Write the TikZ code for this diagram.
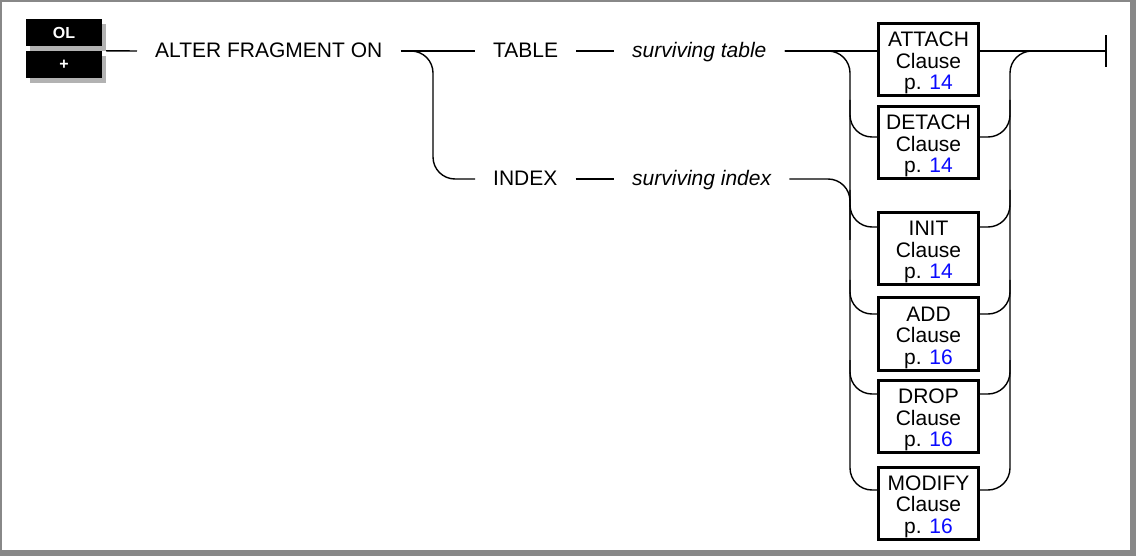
\documentclass[tikz,border=0pt]{standalone}
\usepackage{fontspec}
\setmainfont{Liberation Sans}
\usetikzlibrary{shadows,calc}
\definecolor{framegray}{RGB}{136,136,136}
\definecolor{shadowgray}{RGB}{178,178,178}
\definecolor{linkblue}{RGB}{10,10,255}
\begin{document}
\begin{tikzpicture}[x=1pt,y=-1pt,
  conn/.style={line width=1.4pt},
  rc/.style={conn, rounded corners=22pt},
  lbl/.style={font=\fontsize{21}{22}\selectfont, inner xsep=18pt, inner ysep=0pt, text height=13pt, text depth=0pt, anchor=west},
  clausebox/.style={draw, line width=3pt, minimum width=100pt, minimum height=72pt, inner sep=0pt, align=center, font=\fontsize{21}{21.5}\selectfont},
  tagbox/.style={fill=black, text=white, font=\fontsize{16}{16}\selectfont\bfseries, minimum width=76pt, minimum height=27pt, inner sep=0pt,
     general shadow={fill=shadowgray, shadow xshift=4pt, shadow yshift=-5pt}}
]
\useasboundingbox (0,0) rectangle (1136,556);
\fill[framegray] (0,0) rectangle (1136,556);
\fill[white] (2,2) rectangle (1130,550);

% tag boxes
\node[tagbox] (ol) at (64,32.5) {OL};
\node[tagbox] (plus) at (64,64.5) {+};

% labels
\node[lbl] (alter) at (137,51) {ALTER FRAGMENT ON};
\node[lbl] (table) at (475,51) {TABLE};
\node[lbl] (stab) at (614,51) {\itshape surviving table};
\node[lbl] (index) at (475,179) {INDEX};
\node[lbl] (sidx) at (614,179) {\itshape surviving index};

% clause boxes
\node[clausebox] (attach) at (928.5,59.5) {\rule{0pt}{4pt}\\[-4pt]ATTACH\\Clause\\p. \textcolor{linkblue}{14}};
\node[clausebox] (detach) at (928.5,142.5) {\rule{0pt}{4pt}\\[-4pt]DETACH\\Clause\\p. \textcolor{linkblue}{14}};
\node[clausebox] (init) at (928.5,248.5) {\rule{0pt}{4pt}\\[-4pt]INIT\\Clause\\p. \textcolor{linkblue}{14}};
\node[clausebox] (add) at (928.5,334) {\rule{0pt}{4pt}\\[-4pt]ADD\\Clause\\p. \textcolor{linkblue}{16}};
\node[clausebox] (drop) at (928.5,416.5) {\rule{0pt}{4pt}\\[-4pt]DROP\\Clause\\p. \textcolor{linkblue}{16}};
\node[clausebox] (modify) at (928.5,503) {\rule{0pt}{4pt}\\[-4pt]MODIFY\\Clause\\p. \textcolor{linkblue}{16}};

% connection points
\coordinate (aW) at ([yshift=8.5pt]attach.west);
\coordinate (aE) at ([yshift=8.5pt]attach.east);
\coordinate (dW) at ([yshift=5.5pt]detach.west);
\coordinate (dE) at ([yshift=5.5pt]detach.east);
\coordinate (iW) at ([yshift=21.5pt]init.west);
\coordinate (iE) at ([yshift=21.5pt]init.east);
\coordinate (adW) at ([yshift=20pt]add.west);
\coordinate (adE) at ([yshift=20pt]add.east);
\coordinate (drW) at ([yshift=22.5pt]drop.west);
\coordinate (drE) at ([yshift=22.5pt]drop.east);
\coordinate (mW) at ([yshift=13pt]modify.west);
\coordinate (mE) at ([yshift=13pt]modify.east);
\coordinate (fork) at (433,0);
\coordinate (lbus) at (850,0);
\coordinate (rbus) at (1010,0);
\coordinate (endbar) at (1106,51);

% main line
\draw[conn] ([xshift=4pt]plus.north east) -- (alter.west);
\draw[conn] (alter.east) -- (table.west);
\draw[rc] ([xshift=3pt]alter.east) -| (fork |- index.west) -- (index.west);
\draw[conn] (table.east) -- (stab.west);
\draw[conn] (index.east) -- (sidx.west);
\draw[conn] (stab.east) -- (aW);
\draw[conn] (aE) -- (endbar);
\draw[conn] ([yshift=-16pt]endbar) -- ([yshift=16pt]endbar);

% left bus
\draw[rc] (stab.east) -| (lbus |- mW) -- (mW);
\draw[rc] (sidx.east) -| (lbus |- 0,240);
\draw[rc] (lbus |- 0,100) |- (dW);
\draw[rc] (lbus |- 0,190) |- (iW);
\draw[rc] (lbus |- 0,280) |- (adW);
\draw[rc] (lbus |- 0,360) |- (drW);

% right bus
\draw[rc] (mE) -| (rbus |- aE) -- (endbar);
\draw[rc] (dE) -| (rbus |- 0,100);
\draw[rc] (iE) -| (rbus |- 0,190);
\draw[rc] (adE) -| (rbus |- 0,280);
\draw[rc] (drE) -| (rbus |- 0,360);
\end{tikzpicture}
\end{document}
